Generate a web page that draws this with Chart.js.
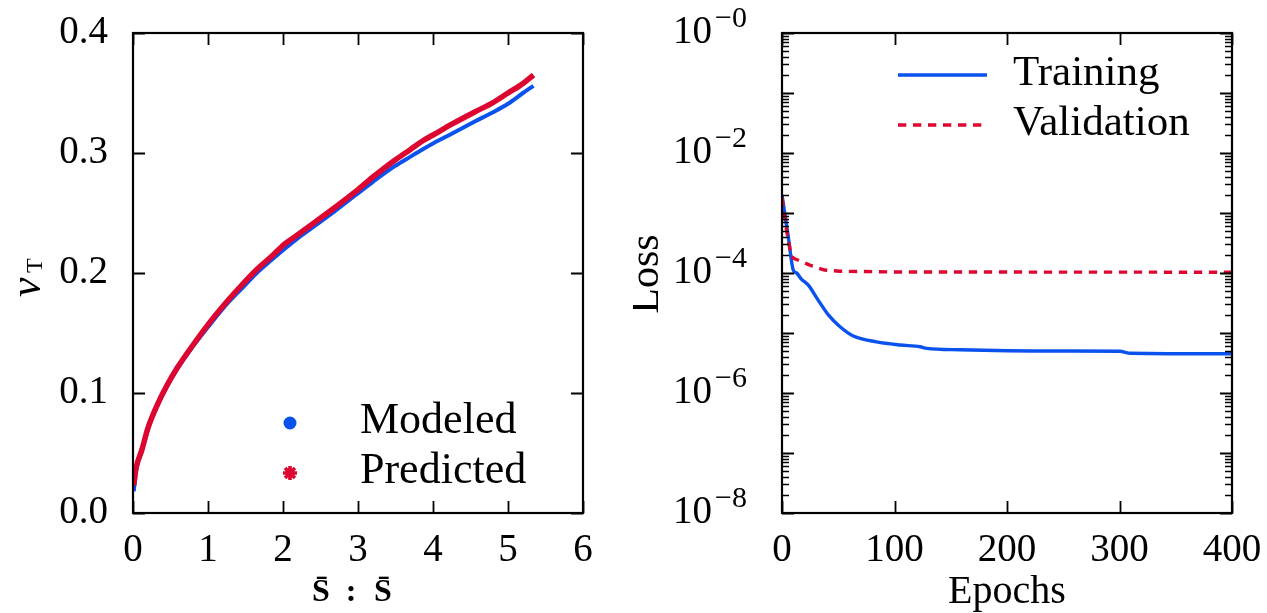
<!DOCTYPE html>
<html><head><meta charset="utf-8">
<script src="https://cdn.jsdelivr.net/npm/chart.js@4.4.0/dist/chart.umd.min.js"></script>
<style>
html,body{margin:0;padding:0;background:#fff;}
#wrap{position:relative;width:1267px;height:613px;overflow:hidden;}
#c1{position:absolute;left:0;top:0;}
#c2{position:absolute;left:633px;top:0;}
.pre{position:absolute;left:-9999px;top:0;font-family:'Liberation Serif','DejaVu Serif',serif;}
</style></head><body>
<span class="pre">Loss 0.1 ν</span><span class="pre" style="font-weight:bold">S</span><span class="pre" style="font-style:italic">ν</span>
<div id="wrap"><canvas id="c1" width="633" height="613"></canvas><canvas id="c2" width="634" height="613"></canvas></div>
<script>
// ---- Left panel data: nu_T vs S:S ----
const strainInv = [0.01,0.04,0.12,0.2,0.33,0.45,0.59,0.8,1.0,1.25,1.45,1.65,1.85,2.02,2.2,2.44,2.7,2.97,3.2,3.49,3.7,3.86,4.0,4.25,4.55,4.8,5.0,5.2,5.34];
const modeledNu = [0.018,0.035,0.052,0.070,0.090,0.105,0.120,0.139,0.155,0.174,0.187,0.200,0.211,0.220,0.229,0.240,0.252,0.265,0.276,0.289,0.297,0.303,0.308,0.316,0.326,0.334,0.341,0.350,0.356];
const predictedNu = [0.023,0.037,0.053,0.071,0.091,0.106,0.121,0.140,0.157,0.176,0.190,0.203,0.214,0.224,0.232,0.243,0.255,0.268,0.280,0.294,0.303,0.310,0.315,0.324,0.334,0.342,0.350,0.358,0.365];
const leftXTicks = [0,1,2,3,4,5,6];
const leftYTicks = [0.0,0.1,0.2,0.3,0.4];
const leftLabels = ['Modeled','Predicted'];

// ---- Right panel data: loss vs epochs ----
const trainEpochs = [0,5.6,10,13,17,23.4,32.3,41.2,51.6,63.4,84.1,104.9,122.7,128.6,157.9,246.8,300,310,400];
const trainLoss   = [2.0e-3,4.0e-4,1.12e-4,1.0e-4,8.0e-5,6.3e-5,3.5e-5,2.0e-5,1.27e-5,8.9e-6,7.1e-6,6.3e-6,5.9e-6,5.55e-6,5.25e-6,5.0e-6,4.95e-6,4.6e-6,4.5e-6];
const valEpochs = [0,4,8.3,11.3,24.7,37.9,51.6,100,400];
const valLoss   = [1.8e-3,5.2e-4,1.87e-4,1.73e-4,1.35e-4,1.12e-4,1.07e-4,1.04e-4,1.03e-4];
const rightXTicks = [0,100,200,300,400];
const rightYExps = [0,-1,-2,-3,-4,-5,-6,-7,-8];
const rightYLabelExps = [0,-2,-4,-6,-8];
const rightLabels = ['Training','Validation'];

const BLUE = '#0a52ee';
const RED = '#dc0630';
const FONT = "'Liberation Serif','DejaVu Serif','Times New Roman',serif";

function frameAndTicks(chart, minorY) {
  const {ctx, chartArea: a, scales} = chart;
  ctx.save();
  ctx.strokeStyle = '#000';
  ctx.lineCap = 'butt';
  ctx.lineWidth = 1.8;
  scales.x.ticks.forEach(t => {
    const px = Math.round(scales.x.getPixelForValue(t.value)) + 0.5;
    ctx.beginPath();
    ctx.moveTo(px, a.bottom); ctx.lineTo(px, a.bottom - 12);
    ctx.moveTo(px, a.top); ctx.lineTo(px, a.top + 12);
    ctx.stroke();
  });
  scales.y.ticks.forEach(t => {
    const py = Math.round(scales.y.getPixelForValue(t.value)) + 0.5;
    ctx.beginPath();
    ctx.moveTo(a.left, py); ctx.lineTo(a.left + 12, py);
    ctx.moveTo(a.right, py); ctx.lineTo(a.right - 12, py);
    ctx.stroke();
  });
  if (minorY) {
    ctx.lineWidth = 1.4;
    rightYExps.forEach(e => {
      if (e === 0) return;
      for (let k = 2; k <= 9; k++) {
        const py = Math.round(scales.y.getPixelForValue(k * Math.pow(10, e))) + 0.5;
        ctx.beginPath();
        ctx.moveTo(a.left, py); ctx.lineTo(a.left + 7, py);
        ctx.moveTo(a.right, py); ctx.lineTo(a.right - 7, py);
        ctx.stroke();
      }
    });
  }
  ctx.lineWidth = 2.2;
  ctx.strokeRect(a.left, a.top, a.right - a.left, a.bottom - a.top);
  ctx.restore();
}

const leftPlugin = {
  id: 'leftDecor',
  afterDatasetsDraw(chart) {
    frameAndTicks(chart, false);
    const ctx = chart.ctx;
    ctx.save();
    ctx.fillStyle = '#000';
    ctx.translate(40, 297);
    ctx.rotate(-Math.PI / 2);
    ctx.textAlign = 'left'; ctx.textBaseline = 'alphabetic';
    ctx.font = 'italic 44px ' + FONT;
    ctx.fillText('ν', 0, 0);
    ctx.font = '24px ' + FONT;
    ctx.fillText('T', 24, 2);
    ctx.restore();
    ctx.save();
    ctx.fillStyle = '#000';
    ctx.textBaseline = 'alphabetic';
    ctx.font = 'bold 32px ' + FONT;
    ctx.textAlign = 'center';
    ctx.fillText('S\u0304', 321, 601);
    ctx.fillText(':', 351, 601);
    ctx.fillText('S\u0304', 383, 601);
    ctx.restore();
    ctx.save();
    const ds = chart.data.datasets;
    ctx.fillStyle = ds[0].borderColor;
    ctx.beginPath(); ctx.arc(290, 423, 6.5, 0, Math.PI * 2); ctx.fill();
    ctx.strokeStyle = ds[1].borderColor; ctx.fillStyle = ds[1].borderColor;
    ctx.lineWidth = 3.6;
    Chart.helpers.drawPoint(ctx, {pointStyle: 'star', radius: 7, borderWidth: 3.6, rotation: 0}, 290, 473);
    ctx.fillStyle = '#000';
    ctx.font = '44px ' + FONT;
    ctx.textAlign = 'left'; ctx.textBaseline = 'alphabetic';
    ctx.fillText(ds[0].label, 360, 433);
    ctx.fillText(ds[1].label, 360, 483);
    ctx.restore();
  }
};

const rightPlugin = {
  id: 'rightDecor',
  afterDatasetsDraw(chart) {
    frameAndTicks(chart, true);
    const ctx = chart.ctx;
    const y = chart.scales.y;
    ctx.save();
    ctx.fillStyle = '#000';
    ctx.textBaseline = 'alphabetic';
    rightYLabelExps.forEach(e => {
      const py = y.getPixelForValue(Math.pow(10, e));
      ctx.font = '30px ' + FONT;
      ctx.textAlign = 'left';
      ctx.fillText('\u2212' + Math.abs(e), 82, py - 6);
      ctx.font = '39px ' + FONT;
      ctx.textAlign = 'right';
      ctx.fillText('10', 79, py + 10);
    });
    ctx.restore();
    ctx.save();
    ctx.fillStyle = '#000';
    ctx.translate(25, 274);
    ctx.rotate(-Math.PI / 2);
    ctx.textAlign = 'center'; ctx.textBaseline = 'alphabetic';
    ctx.font = '42px ' + FONT;
    ctx.fillText('Loss', 0, 0);
    ctx.restore();
    ctx.save();
    ctx.fillStyle = '#000';
    ctx.textAlign = 'center'; ctx.textBaseline = 'alphabetic';
    ctx.font = '40px ' + FONT;
    const a = chart.chartArea;
    ctx.fillText('Epochs', (a.left + a.right) / 2, 603);
    ctx.restore();
    ctx.save();
    const ds = chart.data.datasets;
    ctx.lineWidth = 3.4;
    ctx.strokeStyle = ds[0].borderColor;
    ctx.beginPath(); ctx.moveTo(265, 75); ctx.lineTo(354, 75); ctx.stroke();
    ctx.strokeStyle = ds[1].borderColor;
    ctx.setLineDash(ds[1].borderDash);
    ctx.beginPath(); ctx.moveTo(265, 125); ctx.lineTo(354, 125); ctx.stroke();
    ctx.setLineDash([]);
    ctx.fillStyle = '#000';
    ctx.font = '43px ' + FONT;
    ctx.textAlign = 'left'; ctx.textBaseline = 'alphabetic';
    ctx.fillText(ds[0].label, 380, 85);
    ctx.fillText(ds[1].label, 380, 135);
    ctx.restore();
  }
};

function noPad(s) { s.paddingTop = 0; s.paddingBottom = 0; s.paddingLeft = 0; s.paddingRight = 0; }

function build() {
  const tickFont = {family: FONT, size: 39};
  new Chart(document.getElementById('c1'), {
    type: 'scatter',
    data: {
      datasets: [
        {label: leftLabels[0], data: strainInv.map((x, i) => ({x, y: modeledNu[i]})),
         showLine: true, borderColor: BLUE, backgroundColor: BLUE, borderWidth: 4, pointRadius: 0,
         cubicInterpolationMode: 'monotone', order: 2},
        {label: leftLabels[1], data: strainInv.map((x, i) => ({x, y: predictedNu[i]})),
         showLine: true, borderColor: RED, backgroundColor: RED, borderWidth: 5.5, pointRadius: 0,
         cubicInterpolationMode: 'monotone', order: 1}
      ]
    },
    options: {
      responsive: false, animation: false, devicePixelRatio: 1,
      layout: {padding: {left: 0, top: 33, right: 50, bottom: 0}},
      plugins: {legend: {display: false}, tooltip: {enabled: false}},
      scales: {
        x: {type: 'linear', min: 0, max: 6,
            afterBuildTicks: s => { s.ticks = leftXTicks.map(v => ({value: v})); },
            afterFit: s => { s.height = 100; noPad(s); },
            grid: {display: false, drawTicks: false}, border: {display: false},
            ticks: {font: tickFont, color: '#000', padding: 14, maxRotation: 0, callback: v => String(v)}},
        y: {type: 'linear', min: 0, max: 0.4,
            afterBuildTicks: s => { s.ticks = leftYTicks.map(v => ({value: v})); },
            afterFit: s => { s.width = 133; noPad(s); },
            grid: {display: false, drawTicks: false}, border: {display: false},
            ticks: {font: tickFont, color: '#000', padding: 25, callback: v => Number(v).toFixed(1)}}
      }
    },
    plugins: [leftPlugin]
  });

  new Chart(document.getElementById('c2'), {
    type: 'scatter',
    data: {
      datasets: [
        {label: rightLabels[0], data: trainEpochs.map((x, i) => ({x, y: trainLoss[i]})),
         showLine: true, borderColor: BLUE, backgroundColor: BLUE, borderWidth: 3.4, pointRadius: 0,
         cubicInterpolationMode: 'monotone', order: 2},
        {label: rightLabels[1], data: valEpochs.map((x, i) => ({x, y: valLoss[i]})),
         showLine: true, borderColor: RED, backgroundColor: RED, borderWidth: 3.4, pointRadius: 0,
         borderDash: [8.3, 6.7], tension: 0, order: 1}
      ]
    },
    options: {
      responsive: false, animation: false, devicePixelRatio: 1,
      layout: {padding: {left: 0, top: 33, right: 35, bottom: 0}},
      plugins: {legend: {display: false}, tooltip: {enabled: false}},
      scales: {
        x: {type: 'linear', min: 0, max: 400,
            afterBuildTicks: s => { s.ticks = rightXTicks.map(v => ({value: v})); },
            afterFit: s => { s.height = 100; noPad(s); },
            grid: {display: false, drawTicks: false}, border: {display: false},
            ticks: {font: tickFont, color: '#000', padding: 14, maxRotation: 0, callback: v => String(v)}},
        y: {type: 'logarithmic', min: 1e-8, max: 1,
            afterBuildTicks: s => { s.ticks = rightYExps.map(e => ({value: Math.pow(10, e)})); },
            afterFit: s => { s.width = 149; noPad(s); },
            grid: {display: false, drawTicks: false}, border: {display: false},
            ticks: {display: false}}
      }
    },
    plugins: [rightPlugin]
  });
}

const loads = ['39px "Liberation Serif"', 'bold 32px "Liberation Serif"', 'italic 44px "Liberation Serif"',
               '39px "DejaVu Serif"'].map(f => document.fonts.load(f).catch(() => null));
Promise.all(loads).then(build, build);
</script>
</body></html>
